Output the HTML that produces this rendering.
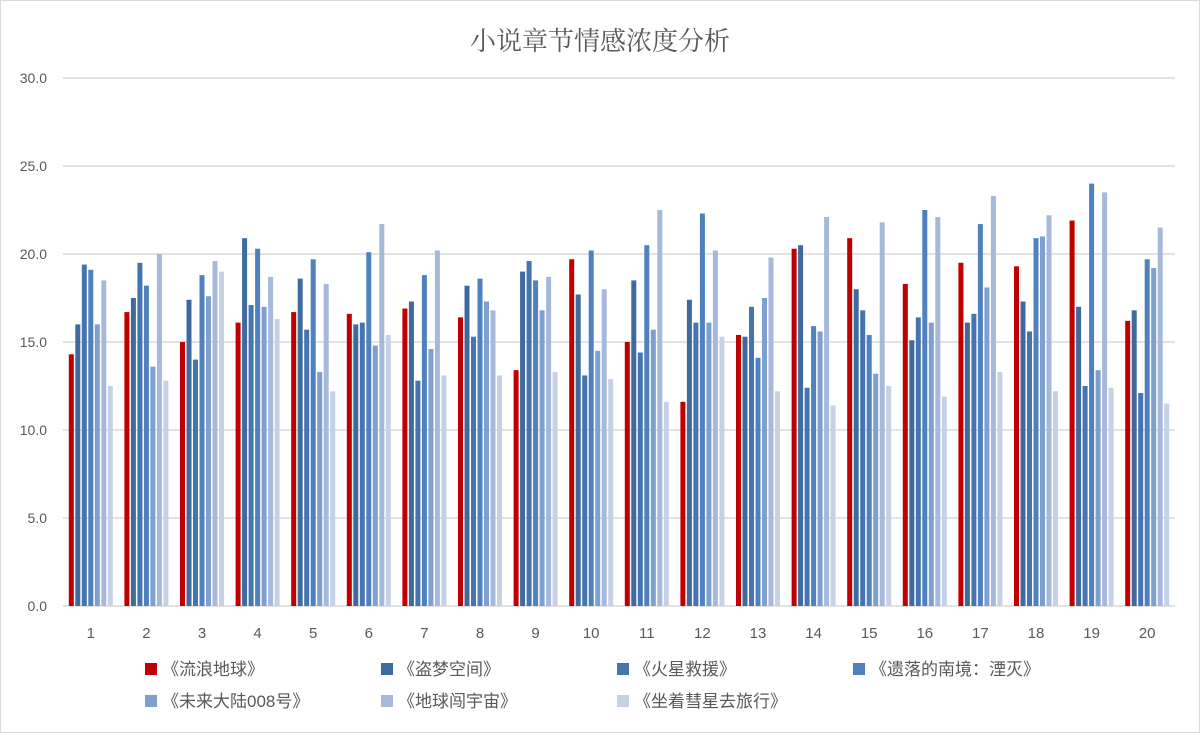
<!DOCTYPE html>
<html><head><meta charset="utf-8"><style>
body{margin:0;background:#fff;}
svg text{font-family:"Liberation Sans","Noto Sans CJK SC",sans-serif;}
</style></head><body>
<svg width="1200" height="733" xmlns="http://www.w3.org/2000/svg" id="chart">
<rect x="0.5" y="0.5" width="1199" height="732" fill="#fff" stroke="#d9d9d9"/>
<text x="600" y="50" text-anchor="middle" font-size="26" fill="#595959" style="font-family:'Liberation Serif','Noto Serif CJK SC',serif">小说章节情感浓度分析</text>
<g id="grid"></g><g id="bars"></g><g id="xlabels"></g><g id="legend"></g>
</svg>
<script>
const categories=["1","2","3","4","5","6","7","8","9","10","11","12","13","14","15","16","17","18","19","20"];
const seriesNames=["《流浪地球》","《盗梦空间》","《火星救援》","《遗落的南境：湮灭》","《未来大陆008号》","《地球闯宇宙》","《坐着彗星去旅行》"];
const s1=[14.3,16.7,15.0,16.1,16.7,16.6,16.9,16.4,13.4,19.7,15.0,11.6,15.4,20.3,20.9,18.3,19.5,19.3,21.9,16.2];
const s2=[16.0,17.5,17.4,20.9,18.6,16.0,17.3,18.2,19.0,17.7,18.5,17.4,15.3,20.5,18.0,15.1,16.1,17.3,17.0,16.8];
const s3=[19.4,19.5,14.0,17.1,15.7,16.1,12.8,15.3,19.6,13.1,14.4,16.1,17.0,12.4,16.8,16.4,16.6,15.6,12.5,12.1];
const s4=[19.1,18.2,18.8,20.3,19.7,20.1,18.8,18.6,18.5,20.2,20.5,22.3,14.1,15.9,15.4,22.5,21.7,20.9,24.0,19.7];
const s5=[16.0,13.6,17.6,17.0,13.3,14.8,14.6,17.3,16.8,14.5,15.7,16.1,17.5,15.6,13.2,16.1,18.1,21.0,13.4,19.2];
const s6=[18.5,20.0,19.6,18.7,18.3,21.7,20.2,16.8,18.7,18.0,22.5,20.2,19.8,22.1,21.8,22.1,23.3,22.2,23.5,21.5];
const s7=[12.5,12.8,19.0,16.3,12.2,15.4,13.1,13.1,13.3,12.9,11.6,15.3,12.2,11.4,12.5,11.9,13.3,12.2,12.4,11.5];
const yTicks=["0.0","5.0","10.0","15.0","20.0","25.0","30.0"];
const series=[s1,s2,s3,s4,s5,s6,s7];
const colors=["#C00000","#3F6A9E","#4674B0","#4E81BD","#7F9FCD","#A6B9DB","#C5D1E5"];
const NS="http://www.w3.org/2000/svg";
const x0=63,x1=1175,yBase=606,yTop=78,yMax=30;
const y=v=>yBase-(v/yMax)*(yBase-yTop);
const pitch=(x1-x0)/categories.length;
const cx=i=>x0+pitch*(i+0.5);
function mk(tag,attrs,parent){const e=document.createElementNS(NS,tag);for(const k in attrs)e.setAttribute(k,attrs[k]);parent.appendChild(e);return e;}
const grid=document.getElementById('grid');
yTicks.forEach(t=>{const v=parseFloat(t);
 const l=mk('line',{x1:x0,x2:x1,y1:y(v),y2:y(v),stroke:'#d9d9d9','stroke-width':1.5},grid);
 
 
 const tx=mk('text',{x:47,y:y(v)+5,'text-anchor':'end','font-size':14,fill:'#595959'},grid);tx.textContent=t;
 
 
});
const bars=document.getElementById('bars');
const bw=5,bp=6.5;
categories.forEach((c,i)=>{
 series.forEach((s,j)=>{
  const bx=cx(i)+(j-3)*bp-bw/2;
  const r=mk('rect',{x:bx,y:y(s[i]),width:bw,height:yBase-y(s[i]),fill:colors[j]},bars);
  
  
 });
 const t=mk('text',{x:cx(i),y:638,'text-anchor':'middle','font-size':15,fill:'#595959'},document.getElementById('xlabels'));
 t.textContent=c;
 
 
});
const lg=document.getElementById('legend');
const lx=[145,381,617,853];
seriesNames.forEach((n,j)=>{
 const col=j%4,row=Math.floor(j/4);
 const ly=669+row*32;
 const g=mk('g',{},lg);
 
 
 mk('rect',{x:lx[col],y:ly-6,width:12,height:12,fill:colors[j]},g);
 const t=mk('text',{x:lx[col]+17,y:ly+6,'font-size':17,fill:'#595959'},g);
 t.textContent=n;
});
</script>
</body></html>
